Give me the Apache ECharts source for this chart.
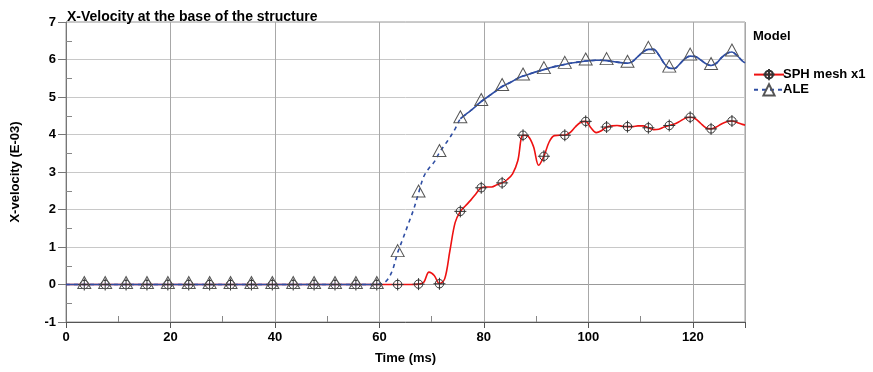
<!DOCTYPE html>
<html>
<head>
<meta charset="utf-8">
<script src="https://cdn.jsdelivr.net/npm/echarts@6/dist/echarts.min.js"></script>
<style>
  html, body { margin: 0; padding: 0; background: #fff; }
  #chart { width: 873px; height: 372px; }
</style>
</head>
<body>
<div id="chart"></div>
<script>
// time in ms
const times = [0, 3.5, 7.5, 11.5, 15.5, 19.5, 23.5, 27.5, 31.5, 35.5, 39.5, 43.5, 47.5, 51.5, 55.5, 59.5,
  60.5, 61.5, 62.5, 63.5, 64.5, 65.5, 66.5, 67.5, 68.5, 69.5, 70.5, 71.5, 72.5, 73.5, 74.5, 75.5,
  76.5, 77.5, 78.5, 79.5, 80.5, 81.5, 82.5, 83.5, 84.5, 85.5, 86.5, 87.5, 88.5, 89.5, 90.5, 91.5,
  92.5, 93.5, 94.5, 95.5, 96.5, 97.5, 98.5, 99.5, 100.5, 101.5, 102.5, 103.5, 104.5, 105.5, 106.5, 107.5,
  108.5, 109.5, 110.5, 111.5, 112.5, 113.5, 114.5, 115.5, 116.5, 117.5, 118.5, 119.5, 120.5, 121.5, 122.5, 123.5,
  124.5, 125.5, 126.5, 127.5, 128.5, 129.5, 130];

// X-velocity (E-03)
const sph = [0, 0, 0, 0, 0, 0, 0, 0, 0, 0, 0, 0, 0, 0, 0, 0,
  0, 0, 0, 0, 0, 0, 0, 0.01, 0.06, 0.33, 0.24, 0.02, 0.15, 0.9, 1.65, 1.95,
  2.1, 2.25, 2.42, 2.58, 2.6, 2.6, 2.66, 2.71, 2.8, 2.95, 3.3, 3.98, 3.95, 3.68, 3.18, 3.42,
  3.8, 3.97, 3.98, 3.98, 4.05, 4.2, 4.32, 4.35, 4.18, 4.05, 4.1, 4.2, 4.23, 4.24, 4.22, 4.21,
  4.21, 4.23, 4.23, 4.18, 4.13, 4.14, 4.2, 4.24, 4.28, 4.35, 4.43, 4.46, 4.42, 4.3, 4.18, 4.15,
  4.2, 4.28, 4.34, 4.36, 4.32, 4.27, 4.25];

const ale = [0, 0, 0, 0, 0, 0, 0, 0, 0, 0, 0, 0, 0, 0, 0, 0,
  0.02, 0.12, 0.38, 0.85, 1.22, 1.6, 1.98, 2.44, 2.88, 3.1, 3.27, 3.52, 3.72, 3.92, 4.15, 4.42,
  4.53, 4.64, 4.76, 4.88, 4.98, 5.08, 5.18, 5.28, 5.35, 5.42, 5.5, 5.56, 5.6, 5.65, 5.69, 5.73,
  5.77, 5.81, 5.84, 5.87, 5.9, 5.92, 5.94, 5.96, 5.97, 5.98, 5.98, 5.97, 5.95, 5.93, 5.91, 5.9,
  5.95, 6.08, 6.2, 6.27, 6.27, 6.12, 5.9, 5.77, 5.76, 5.88, 6.02, 6.09, 6.08, 5.99, 5.89, 5.84,
  5.9, 6.05, 6.16, 6.2, 6.1, 5.96, 5.91];

const font = "'Liberation Sans', Arial, sans-serif";

const isMarker = t => t > 0 && (t - 3.5) % 4 === 0;

const circleCross = 'path://M3,10A7,7 0 1,0 17,10A7,7 0 1,0 3,10Z M10,0L10,20M0,10L20,10';

const pairs = arr => times.map((t, i) => [t, arr[i]]);

// the flat / slow parts of the ALE curve read as solid in the picture
const aleSolid = times.map((t, i) => (t <= 60.5 || t >= 75.5) ? [t, ale[i]] : [t, '-']);

const chart = echarts.init(document.getElementById('chart'));

const ySplitColors = ['#c8c8c8', '#999999', '#c8c8c8', '#c8c8c8', '#c8c8c8', '#c8c8c8', '#c8c8c8', '#c8c8c8', '#c8c8c8'];

chart.setOption({
  animation: false,
  title: [
    { text: 'X-Velocity at the base of the structure', left: 62, top: 5,
      textStyle: { fontFamily: font, fontSize: 14, fontWeight: 'bold', color: '#000' } },
    { text: 'Model', left: 748, top: 25,
      textStyle: { fontFamily: font, fontSize: 13, fontWeight: 'bold', color: '#000' } }
  ],
  legend: {
    data: ['SPH mesh x1', 'ALE'],
    orient: 'vertical',
    left: 748,
    top: 63,
    itemWidth: 30,
    itemHeight: 14,
    itemGap: 2,
    textStyle: { fontFamily: font, fontSize: 13, fontWeight: 'bold', color: '#000', padding: [0, 0, 0, -6] }
  },
  grid: {
    left: 66, right: 128, top: 22, bottom: 50,
    outerBoundsMode: 'none',
    containLabel: false,
    show: true, borderColor: '#999', borderWidth: 1
  },
  xAxis: {
    type: 'value',
    min: 0, max: 130, interval: 20,
    name: 'Time (ms)',
    nameLocation: 'middle',
    nameGap: 30,
    nameTextStyle: { fontFamily: font, fontSize: 13, fontWeight: 'bold', color: '#000' },
    axisLine: { show: true, onZero: false, lineStyle: { color: '#555' } },
    axisTick: { show: true, length: 6, lineStyle: { color: '#555' } },
    minorTick: { show: true, splitNumber: 2, length: -6, lineStyle: { color: '#888' } },
    axisLabel: { showMaxLabel: false, margin: 9, fontFamily: font, fontSize: 13, fontWeight: 'bold', color: '#000' },
    splitLine: { show: true, lineStyle: { color: '#a8a8a8' } }
  },
  yAxis: {
    type: 'value',
    min: -1, max: 7, interval: 1,
    name: 'X-velocity (E-03)',
    nameLocation: 'middle',
    nameGap: 44,
    nameRotate: 90,
    nameTextStyle: { fontFamily: font, fontSize: 13, fontWeight: 'bold', color: '#000' },
    axisLine: { show: true, onZero: false, lineStyle: { color: '#777' } },
    axisTick: { show: true, length: 8, lineStyle: { color: '#777' } },
    minorTick: { show: true, splitNumber: 2, length: -6, lineStyle: { color: '#888' } },
    axisLabel: { margin: 10, fontFamily: font, fontSize: 13, fontWeight: 'bold', color: '#000' },
    splitLine: { show: true, lineStyle: { color: ySplitColors } }
  },
  series: [
    {
      name: 'SPH mesh x1',
      type: 'line',
      data: pairs(sph),
      smooth: 0.35,
      showAllSymbol: true,
      symbol: circleCross,
      symbolSize: v => isMarker(v[0]) ? 12 : 0,
      lineStyle: { color: '#ee1111', width: 1.6 },
      itemStyle: { color: 'transparent', borderColor: '#333', borderWidth: 1 },
      emphasis: { disabled: true }
    },
    {
      name: 'ALE',
      type: 'line',
      data: pairs(ale),
      smooth: 0.35,
      showAllSymbol: true,
      symbol: 'triangle',
      symbolSize: v => isMarker(v[0]) ? [13, 12] : 0,
      symbolOffset: [0, -2],
      lineStyle: { color: '#2f4ea3', width: 1.6, type: [4, 4] },
      itemStyle: { color: 'transparent', borderColor: '#555', borderWidth: 1 },
      emphasis: { disabled: true }
    },
    {
      name: 'ALE solid',
      type: 'line',
      data: aleSolid,
      smooth: 0.35,
      showSymbol: false,
      lineStyle: { color: '#2f4ea3', width: 1.6 },
      emphasis: { disabled: true }
    }
  ]
});
</script>
</body>
</html>
